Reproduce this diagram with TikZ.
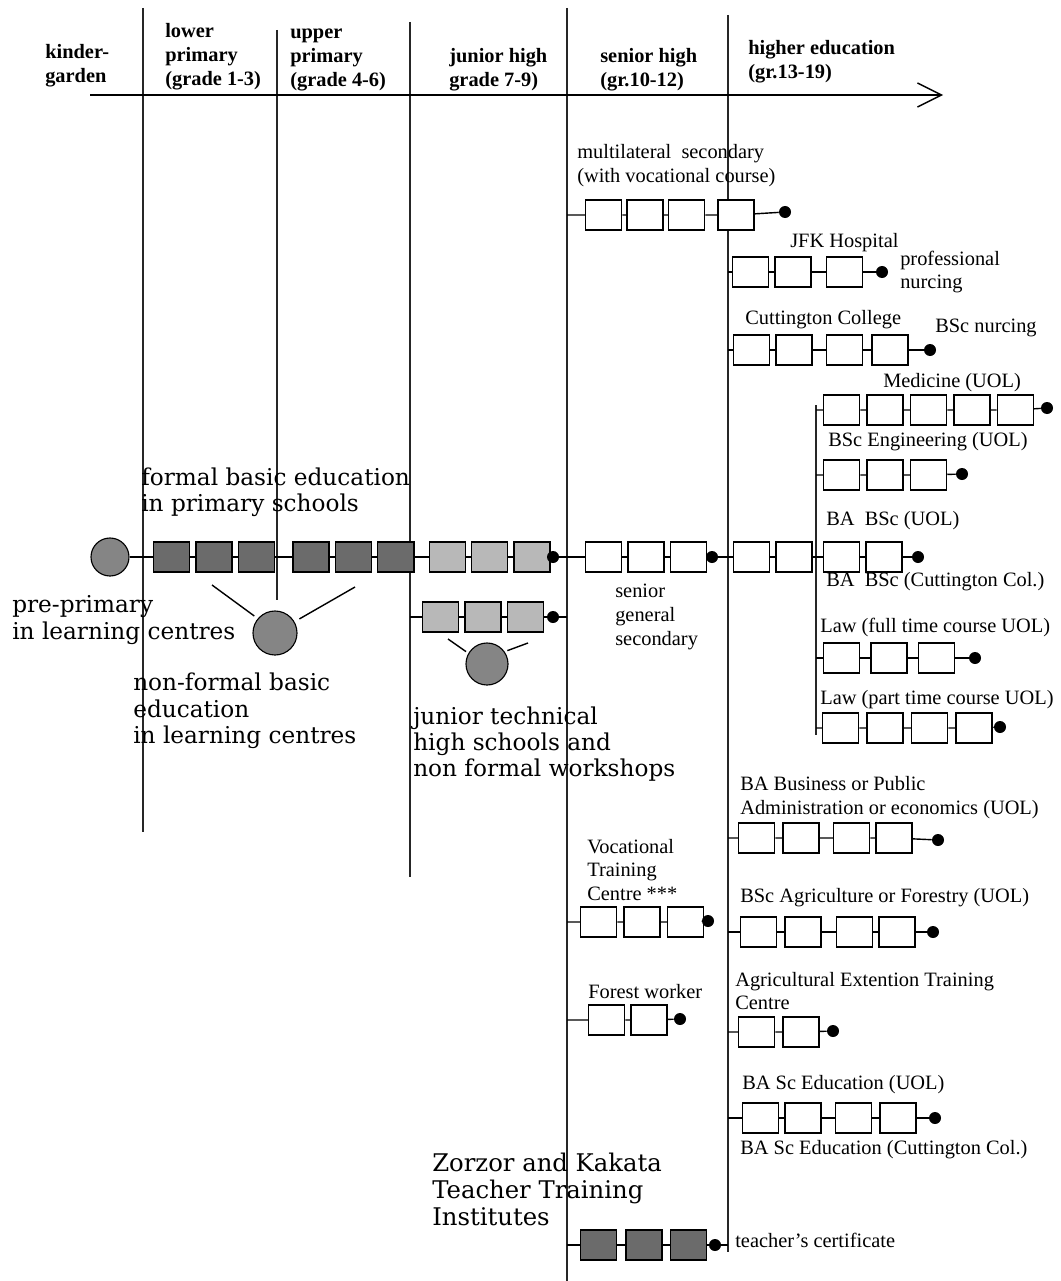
\documentclass[tikz,border=0pt]{standalone}
\usepackage{fontspec}
\setmainfont{Liberation Serif}
\newfontfamily\wideserif{DejaVu Serif}
\usepackage{tikz}
\usetikzlibrary{arrows.meta,positioning}

\newcommand\chainfont{\fontsize{14.5}{17}\selectfont}
\newcommand\headfont{\bfseries\fontsize{14.5}{17}\selectfont}
\newcommand\bigfont{\wideserif\fontsize{16.5}{18.7}\selectfont}
\newcommand\bolderfont{\wideserif\fontsize{17.3}{19.2}\selectfont}

\begin{document}
\begin{tikzpicture}[
  x=0.025cm, y=-0.025cm,
  node distance=0.125cm,
  box/.style={rectangle, draw, line width=1pt, fill=white, minimum width=0.9cm, minimum height=0.75cm, inner sep=0},
  dkbox/.style={box, fill=black!58},
  ltbox/.style={box, fill=black!28},
  dot/.style={circle, fill=black, minimum size=0.3cm, inner sep=0},
  ball/.style={circle, draw, line width=0.8pt, fill=black!48, inner sep=0},
  link/.style={line width=1pt},
  vline/.style={line width=1pt, black!85},
  lbl/.style={anchor=west, align=left, inner sep=0, font=\chainfont},
  head/.style={anchor=west, align=left, inner sep=0, font=\headfont},
  big/.style={anchor=west, align=left, inner sep=0, font=\bigfont}
]
\useasboundingbox (0,0) rectangle (1060,1281);

\draw[vline] (143,8) -- (143,832);
\draw[vline] (277,30) -- (277,600);
\draw[vline] (410,22) -- (410,877);
\draw[vline] (567,8) -- (567,1281);
\draw[vline] (728,15) -- (728,1252);
\draw[vline] (816,405) -- (816,735);
\draw[line width=1.2pt, -{Straight Barb[length=0.6cm, width=0.6cm, line width=1pt]}] (90,95) -- (943,95);

\node[head] (kinder) at (45,66) {kinder-\\garden};
\node[head] (lower) at (165,57) {lower\\primary\\(grade 1-3)};
\node[head] (upper) at (290,60) {upper\\primary\\(grade 4-6)};
\node[head] (junior) at (449,70) {junior high\\grade 7-9)};
\node[head] (senior) at (600,70) {senior high\\(gr.10-12)};
\node[head] (higher) at (748,62) {higher education\\(gr.13-19)};

\node[ball, minimum size=0.95cm] (pp) at (110,557) {};
\node[dkbox, anchor=west] (f1) at (153,557) {};
\node[dkbox, right=of f1] (f2) {};
\node[dkbox, right=of f2] (f3) {};
\node[dkbox, right=0.425cm of f3] (f4) {};
\node[dkbox, right=of f4] (f5) {};
\node[dkbox, right=of f5] (f6) {};
\node[ltbox, right=0.35cm of f6] (j1) {};
\node[ltbox, right=of j1] (j2) {};
\node[ltbox, right=of j2] (j3) {};
\node[dot] (jd) at (553,557) {};
\node[box, anchor=west] (s1) at (585,557) {};
\node[box, right=of s1] (s2) {};
\node[box, right=of s2] (s3) {};
\node[dot] (sd) at (712,557) {};
\node[box, anchor=west] (h1) at (733,557) {};
\node[box, right=of h1] (h2) {};
\node[box, anchor=west] (ba1) at (823,557) {};
\node[box, right=of ba1] (ba2) {};
\node[dot] (bad) at (918,557) {};

\node[ball, minimum size=1.1cm] (nf) at (275,633) {};
\coordinate (jt0) at (410,617);
\node[ltbox, anchor=west] (jt1) at (422,617) {};
\node[ltbox, right=of jt1] (jt2) {};
\node[ltbox, right=of jt2] (jt3) {};
\node[dot] (jtd) at (553,617) {};
\coordinate (jte) at (567,617);
\node[ball, minimum size=1.05cm] (jc) at (487,664) {};

\coordinate (ms0) at (567,215);
\node[box, anchor=west] (ms1) at (585,215) {};
\node[box, right=0.1cm of ms1] (ms2) {};
\node[box, right=0.1cm of ms2] (ms3) {};
\node[box, right=0.3cm of ms3] (ms4) {};
\node[dot] (msd) at (785,212) {};

\coordinate (jf0) at (728,272);
\node[box, anchor=west] (jf1) at (732,272) {};
\node[box, right=of jf1] (jf2) {};
\node[box, right=0.35cm of jf2] (jf3) {};
\node[dot] (jfd) at (882,272) {};

\coordinate (cc0) at (728,350);
\node[box, anchor=west] (cc1) at (733,350) {};
\node[box, right=of cc1] (cc2) {};
\node[box, right=0.325cm of cc2] (cc3) {};
\node[box, right=0.2cm of cc3] (cc4) {};
\node[dot] (ccd) at (930,350) {};

\coordinate (md0) at (816,410);
\node[box, anchor=west] (md1) at (823,410) {};
\node[box, right=0.15cm of md1] (md2) {};
\node[box, right=0.15cm of md2] (md3) {};
\node[box, right=0.15cm of md3] (md4) {};
\node[box, right=0.15cm of md4] (md5) {};
\node[dot] (mdd) at (1047,408) {};

\coordinate (en0) at (816,475);
\node[box, anchor=west] (en1) at (823,475) {};
\node[box, right=0.15cm of en1] (en2) {};
\node[box, right=0.15cm of en2] (en3) {};
\node[dot] (end) at (962,474) {};

\coordinate (ba0) at (816,557);

\coordinate (lf0) at (816,658);
\node[box, anchor=west] (lf1) at (823,658) {};
\node[box, right=0.25cm of lf1] (lf2) {};
\node[box, right=0.25cm of lf2] (lf3) {};
\node[dot] (lfd) at (975,658) {};

\coordinate (lp0) at (816,728);
\node[box, anchor=west] (lp1) at (822,728) {};
\node[box, right=0.175cm of lp1] (lp2) {};
\node[box, right=0.175cm of lp2] (lp3) {};
\node[box, right=0.175cm of lp3] (lp4) {};
\node[dot] (lpd) at (1000,727) {};

\coordinate (bb0) at (728,838);
\node[box, anchor=west] (bb1) at (738,838) {};
\node[box, right=0.175cm of bb1] (bb2) {};
\node[box, right=0.325cm of bb2] (bb3) {};
\node[box, right=of bb3] (bb4) {};
\node[dot] (bbd) at (938,840) {};

\coordinate (ag0) at (728,932);
\node[box, anchor=west] (ag1) at (740,932) {};
\node[box, right=0.175cm of ag1] (ag2) {};
\node[box, right=0.35cm of ag2] (ag3) {};
\node[box, right=of ag3] (ag4) {};
\node[dot] (agd) at (933,932) {};

\coordinate (ae0) at (728,1032);
\node[box, anchor=west] (ae1) at (738,1032) {};
\node[box, right=0.175cm of ae1] (ae2) {};
\node[dot] (aed) at (833,1031) {};

\coordinate (ed0) at (728,1118);
\node[box, anchor=west] (ed1) at (742,1118) {};
\node[box, right=of ed1] (ed2) {};
\node[box, right=0.325cm of ed2] (ed3) {};
\node[box, right=0.175cm of ed3] (ed4) {};
\node[dot] (edd) at (935,1118) {};

\coordinate (vt0) at (567,922);
\node[box, anchor=west] (vt1) at (580,922) {};
\node[box, right=0.15cm of vt1] (vt2) {};
\node[box, right=0.15cm of vt2] (vt3) {};
\node[dot] (vtd) at (708,921) {};

\coordinate (fw0) at (567,1020);
\node[box, anchor=west] (fw1) at (588,1020) {};
\node[box, right=of fw1] (fw2) {};
\node[dot] (fwd) at (680,1019) {};

\coordinate (tc0) at (567,1245);
\node[dkbox, anchor=west] (tc1) at (580,1245) {};
\node[dkbox, right=0.2cm of tc1] (tc2) {};
\node[dkbox, right=0.175cm of tc2] (tc3) {};
\node[dot] (tcd) at (715,1245) {};
\coordinate (tce) at (728,1245);

\node[lbl] (mslbl) at (577,166) {multilateral\ \ secondary\\(with vocational course)};
\node[lbl] (jflbl) at (790,243) {JFK Hospital};
\node[lbl] (jfout) at (900,272) {professional\\nurcing};
\node[lbl] (cclbl) at (745,320) {Cuttington College};
\node[lbl] (ccout) at (935,328) {BSc nurcing};
\node[lbl] (mdlbl) at (883,383) {Medicine (UOL)};
\node[lbl] (enlbl) at (828,442) {BSc Engineering (UOL)};
\node[lbl] (balbl) at (826,521) {BA\ \ BSc (UOL)};
\node[lbl] (bcclbl) at (826,582) {BA\ \ BSc (Cuttington Col.)};
\node[lbl] (lflbl) at (820,627) {Law (full time course UOL)};
\node[lbl] (lplbl) at (820,700) {Law (part time course UOL)};
\node[lbl] (sglbl) at (615,617) {senior\\general\\secondary};
\node[lbl] (bblbl) at (740,798) {BA Business or Public\\Administration or economics (UOL)};
\node[lbl] (aglbl) at (740,898) {BSc Agriculture or Forestry (UOL)};
\node[lbl] (aelbl) at (735,991) {Agricultural Extention Training\\Centre};
\node[lbl] (edlbl) at (742,1085) {BA Sc Education (UOL)};
\node[lbl] (edcclbl) at (740,1150) {BA Sc Education (Cuttington Col.)};
\node[lbl] (vtlbl) at (587,870) {Vocational\\Training\\Centre ***};
\node[lbl] (fwlbl) at (588,992) {Forest worker};
\node[lbl] (tcout) at (735,1240) {teacher's certificate};

\node[big] (fblbl) at (141,492) {formal basic education\\in primary schools};
\node[big] (pplbl) at (12,620) {pre-primary\\in learning centres};
\node[big] (nflbl) at (133,711) {non-formal basic\\education\\in learning centres};
\node[big] (jtlbl) at (413,744) {junior technical\\high schools and\\non formal workshops};
\node[big, font=\bolderfont] (ttlbl) at (432,1189) {Zorzor and Kakata\\Teacher Training\\Institutes};

\draw[link] (pp) -- (f1) -- (f2) -- (f3) -- (f4) -- (f5) -- (f6) -- (j1) -- (j2) -- (j3) -- (jd) -- (s1) -- (s2) -- (s3) -- (sd) -- (h1) -- (h2) -- (ba1) -- (ba2) -- (bad);
\draw[link] (jt0) -- (jt1) -- (jt2) -- (jt3) -- (jtd) -- (jte);
\draw[link] (ms0) -- (ms1) -- (ms2) -- (ms3) -- (ms4) -- (msd);
\draw[link] (jf0) -- (jf1) -- (jf2) -- (jf3) -- (jfd);
\draw[link] (cc0) -- (cc1) -- (cc2) -- (cc3) -- (cc4) -- (ccd);
\draw[link] (md0) -- (md1) -- (md2) -- (md3) -- (md4) -- (md5) -- (mdd);
\draw[link] (en0) -- (en1) -- (en2) -- (en3) -- (end);
\draw[link] (lf0) -- (lf1) -- (lf2) -- (lf3) -- (lfd);
\draw[link] (lp0) -- (lp1) -- (lp2) -- (lp3) -- (lp4) -- (lpd);
\draw[link] (bb0) -- (bb1) -- (bb2) -- (bb3) -- (bb4) -- (bbd);
\draw[link] (ag0) -- (ag1) -- (ag2) -- (ag3) -- (ag4) -- (agd);
\draw[link] (ae0) -- (ae1) -- (ae2) -- (aed);
\draw[link] (ed0) -- (ed1) -- (ed2) -- (ed3) -- (ed4) -- (edd);
\draw[link] (vt0) -- (vt1) -- (vt2) -- (vt3) -- (vtd);
\draw[link] (fw0) -- (fw1) -- (fw2) -- (fwd);
\draw[link] (tc0) -- (tc1) -- (tc2) -- (tc3) -- (tcd) -- (tce);

\draw[link, shorten >=3pt] (212,585) -- (nf.140);
\draw[link, shorten >=4pt] (355,587) -- (nf.30);
\draw[link, shorten >=2pt] (448,639) -- (jc.150);
\draw[link, shorten >=2pt] (528,643) -- (jc.35);
\end{tikzpicture}
\end{document}
